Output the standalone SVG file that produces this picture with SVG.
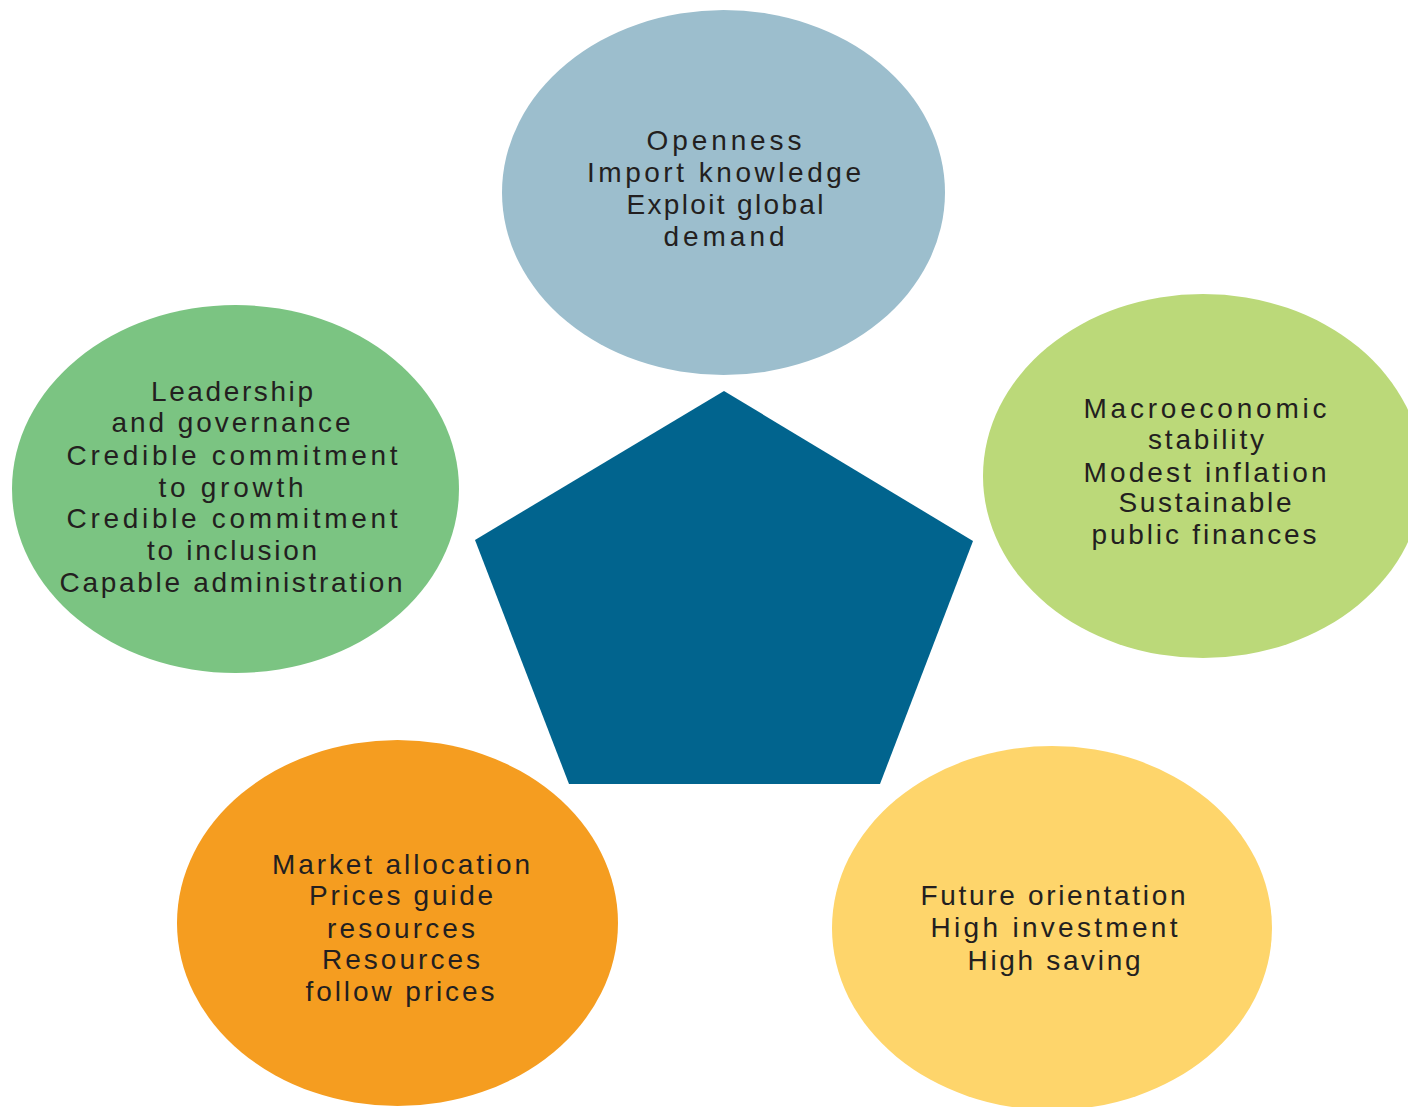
<svg xmlns="http://www.w3.org/2000/svg" width="1408" height="1107" viewBox="0 0 1408 1107">
<style>
  .lbl { font-family: "Liberation Sans", Arial, sans-serif; font-size: 28px; fill: #231f20; text-anchor: middle; }
</style>
<rect width="1408" height="1107" fill="#ffffff"/>
<g id="connectors"></g>
<g id="node-center">
  <polygon points="724,391 973,541 880,784 569,784 475,540" fill="#01648e"/>
</g>
<g id="node-openness">
  <ellipse cx="723.5" cy="192.5" rx="221.5" ry="182.5" fill="#9cbecd"/>
  <text class="lbl" x="724" y="150" textLength="155" lengthAdjust="spacing">Openness</text>
  <text class="lbl" x="724" y="182" textLength="274" lengthAdjust="spacing">Import knowledge</text>
  <text class="lbl" x="725" y="214" textLength="197" lengthAdjust="spacing">Exploit global</text>
  <text class="lbl" x="724" y="246" textLength="121" lengthAdjust="spacing">demand</text>
</g>
<g id="node-leadership">
  <ellipse cx="235.5" cy="489" rx="223.5" ry="184" fill="#7bc482"/>
  <text class="lbl" x="232" y="401" textLength="162" lengthAdjust="spacing">Leadership</text>
  <text class="lbl" x="231" y="432" textLength="239" lengthAdjust="spacing">and governance</text>
  <text class="lbl" x="232" y="465" textLength="331" lengthAdjust="spacing">Credible commitment</text>
  <text class="lbl" x="231" y="497" textLength="145" lengthAdjust="spacing">to growth</text>
  <text class="lbl" x="232" y="528" textLength="331" lengthAdjust="spacing">Credible commitment</text>
  <text class="lbl" x="232" y="560" textLength="170" lengthAdjust="spacing">to inclusion</text>
  <text class="lbl" x="231" y="592" textLength="343" lengthAdjust="spacing">Capable administration</text>
</g>
<g id="node-macro">
  <ellipse cx="1203" cy="476" rx="220" ry="182" fill="#bbd979"/>
  <text class="lbl" x="1205" y="418" textLength="243" lengthAdjust="spacing">Macroeconomic</text>
  <text class="lbl" x="1206" y="449" textLength="116" lengthAdjust="spacing">stability</text>
  <text class="lbl" x="1205" y="482" textLength="243" lengthAdjust="spacing">Modest inflation</text>
  <text class="lbl" x="1205" y="512" textLength="173" lengthAdjust="spacing">Sustainable</text>
  <text class="lbl" x="1204" y="544" textLength="225" lengthAdjust="spacing">public finances</text>
</g>
<g id="node-market">
  <ellipse cx="397.5" cy="923" rx="220.5" ry="183" fill="#f59d20"/>
  <text class="lbl" x="401" y="874" textLength="258" lengthAdjust="spacing">Market allocation</text>
  <text class="lbl" x="401" y="905" textLength="184" lengthAdjust="spacing">Prices guide</text>
  <text class="lbl" x="401" y="938" textLength="148" lengthAdjust="spacing">resources</text>
  <text class="lbl" x="401" y="969" textLength="158" lengthAdjust="spacing">Resources</text>
  <text class="lbl" x="400" y="1001" textLength="189" lengthAdjust="spacing">follow prices</text>
</g>
<g id="node-future">
  <ellipse cx="1052" cy="928" rx="220" ry="182" fill="#fed56b"/>
  <text class="lbl" x="1053" y="905" textLength="265" lengthAdjust="spacing">Future orientation</text>
  <text class="lbl" x="1054" y="937" textLength="247" lengthAdjust="spacing">High investment</text>
  <text class="lbl" x="1054" y="970" textLength="173" lengthAdjust="spacing">High saving</text>
</g>
</svg>
